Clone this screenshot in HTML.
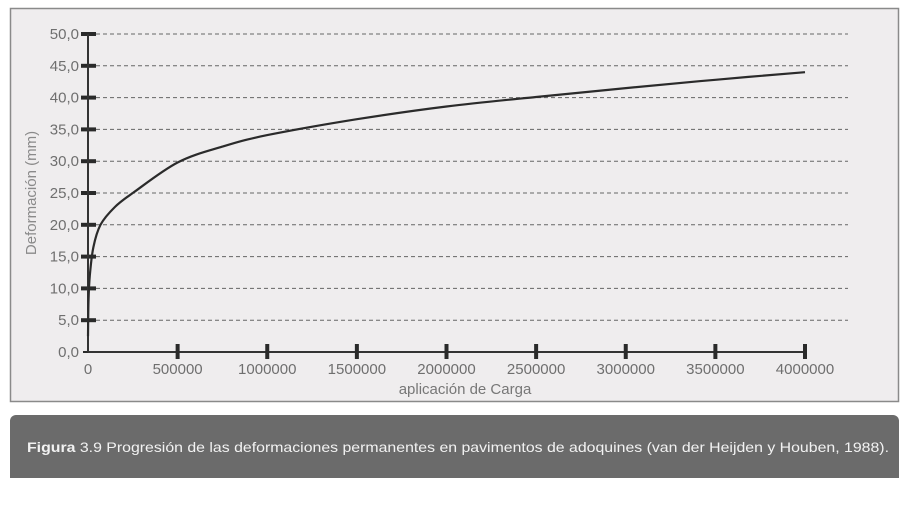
<!DOCTYPE html>
<html><head><meta charset="utf-8"><style>
html,body{margin:0;padding:0;background:#fff;}
svg{display:block;font-family:"Liberation Sans",sans-serif;}
</style></head><body>
<svg id="chart" width="920" height="519" viewBox="0 0 920 519">
<rect x="10.5" y="8.5" width="888" height="393" fill="#efedee" stroke="#8a8a8a" stroke-width="1.5"/>
<g id="grid"></g><g id="axes"></g><g id="series"></g>
<text x="0" y="0" transform="translate(36,193) rotate(-90)" text-anchor="middle" font-size="15" fill="#8a8a8a">Deformación (mm)</text>
<text x="465" y="394" text-anchor="middle" font-size="15" fill="#777">aplicación de Carga</text>
<path d="M10 478 V421 a6 6 0 0 1 6 -6 H893 a6 6 0 0 1 6 6 V478 Z" fill="#6b6b6b"/>
<text x="27" y="452" font-size="14" fill="#f2f2f2" textLength="862" lengthAdjust="spacingAndGlyphs"><tspan font-weight="bold">Figura</tspan> 3.9 Progresión de las deformaciones permanentes en pavimentos de adoquines (van der Heijden y Houben, 1988).</text>
</svg>
<script>
const xTicks=[0,500000,1000000,1500000,2000000,2500000,3000000,3500000,4000000];
const yTicks=[0,5,10,15,20,25,30,35,40,45,50];
const yTickLabels=["0,0","5,0","10,0","15,0","20,0","25,0","30,0","35,0","40,0","45,0","50,0"];
const loads=[0,3000,10000,30000,70000,150000,250000,500000,750000,1000000,1500000,2000000,2500000,3000000,3500000,4000000];
const deform=[2.5,8,12,16.5,20,22.8,25,29.8,32.3,34.1,36.6,38.6,40.1,41.5,42.8,44];
const NS="http://www.w3.org/2000/svg";
const X=v=>88+v*(805-88)/4000000;
const Y=v=>352-v*(352-34)/50;
function mk(t,a,p){const e=document.createElementNS(NS,t);for(const k in a)e.setAttribute(k,a[k]);p.appendChild(e);return e;}
const grid=document.getElementById('grid'),axes=document.getElementById('axes'),ser=document.getElementById('series');
yTicks.forEach((v,i)=>{
  if(v>0){const g=mk('line',{x1:96,x2:848,y1:Y(v),y2:Y(v),stroke:'#666','stroke-width':1,'stroke-dasharray':'4,3'},grid);
  
  }
  const t=mk('line',{x1:v>0?81:83,x2:v>0?96:88,y1:Y(v),y2:Y(v),stroke:'#2a2a2a','stroke-width':v>0?4:2},axes);
  
  
  const l=mk('text',{x:79,y:Y(v)+5,'text-anchor':'end','font-size':15,fill:'#6f6f6f'},axes);
  l.textContent=yTickLabels[i];
  
  
});
const ya=mk('line',{x1:88,x2:88,y1:Y(50),y2:Y(0),stroke:'#333','stroke-width':2},axes);


const xa=mk('line',{x1:88,x2:X(4000000),y1:Y(0),y2:Y(0),stroke:'#333','stroke-width':2},axes);


xTicks.forEach(v=>{
  if(v>0){const t=mk('line',{x1:X(v),x2:X(v),y1:Y(0)-8,y2:Y(0)+7,stroke:'#2a2a2a','stroke-width':4},axes);
  
  }
  const l=mk('text',{x:X(v),y:Y(0)+22,'text-anchor':'middle','font-size':15,fill:'#6f6f6f'},axes);
  l.textContent=String(v);
  
  
});
const pts=loads.map((v,i)=>[X(v),Y(deform[i])]);
let d='M'+pts[0][0].toFixed(1)+' '+pts[0][1].toFixed(1);
for(let i=0;i<pts.length-1;i++){
  const p0=pts[Math.max(0,i-1)],p1=pts[i],p2=pts[i+1],p3=pts[Math.min(pts.length-1,i+2)];
  const c1=[p1[0]+(p2[0]-p0[0])/6,p1[1]+(p2[1]-p0[1])/6];
  const c2=[p2[0]-(p3[0]-p1[0])/6,p2[1]-(p3[1]-p1[1])/6];
  d+=' C'+c1.map(n=>n.toFixed(1)).join(' ')+' '+c2.map(n=>n.toFixed(1)).join(' ')+' '+p2.map(n=>n.toFixed(1)).join(' ');
}
const p=mk('path',{d:d,fill:'none',stroke:'#2b2b2b','stroke-width':2.2,'stroke-linejoin':'round'},ser);


</script>
</body></html>
